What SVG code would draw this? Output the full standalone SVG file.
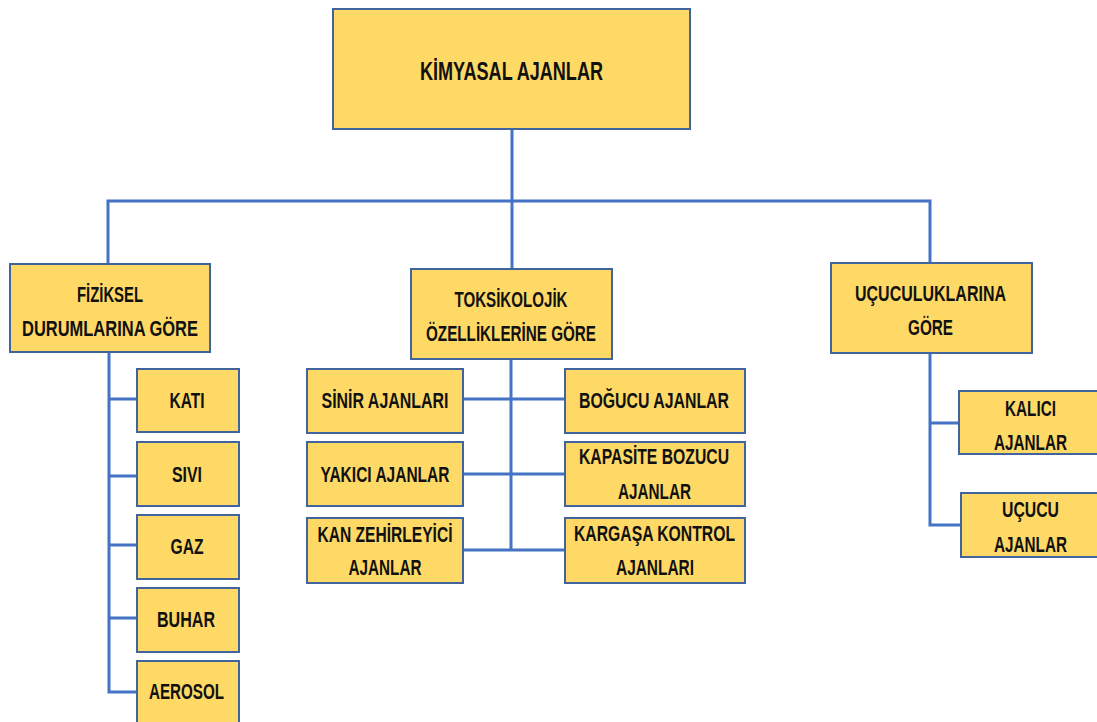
<svg xmlns="http://www.w3.org/2000/svg" width="1097" height="722" viewBox="0 0 1097 722">
<style>
.box{fill:#FFD966;stroke:#41649F;stroke-width:2}
.ln{stroke:#4472C4;stroke-width:3;fill:none}
text{font-family:"Liberation Sans",Arial,sans-serif;font-weight:bold;font-size:22px;fill:#111;text-anchor:middle}
.big{font-size:26px}
</style>
<rect width="1097" height="722" fill="#fff"/>
<g id="connectors">
<path class="ln" d="M512,129V201M108,263V201H930V263M512,201V269"/>
<path class="ln" d="M109,352V692H137M109,399H137M109,476H137M109,545H137M109,618H137"/>
<path class="ln" d="M511,359V550M463,399H565M463,474H565M463,550H565"/>
<path class="ln" d="M930,353V525H961M930,423H959"/>
</g>
<g id="root"><rect class="box" x="333" y="9" width="357" height="120"/><text class="big" x="511.5" y="80" textLength="183" lengthAdjust="spacingAndGlyphs">KİMYASAL AJANLAR</text></g>
<g id="fiziksel"><rect class="box" x="10" y="264" width="200" height="88"/><text x="110" y="302" textLength="66" lengthAdjust="spacingAndGlyphs">FİZİKSEL</text><text x="110" y="336" textLength="176" lengthAdjust="spacingAndGlyphs">DURUMLARINA GÖRE</text></g>
<g id="kati"><rect class="box" x="137" y="369" width="102" height="63"/><text x="187" y="408" textLength="35" lengthAdjust="spacingAndGlyphs">KATI</text></g>
<g id="sivi"><rect class="box" x="137" y="442" width="102" height="64"/><text x="187" y="482" textLength="30" lengthAdjust="spacingAndGlyphs">SIVI</text></g>
<g id="gaz"><rect class="box" x="137" y="515" width="102" height="64"/><text x="187" y="554" textLength="33" lengthAdjust="spacingAndGlyphs">GAZ</text></g>
<g id="buhar"><rect class="box" x="137" y="588" width="102" height="64"/><text x="186" y="627" textLength="58" lengthAdjust="spacingAndGlyphs">BUHAR</text></g>
<g id="aerosol"><rect class="box" x="137" y="661" width="102" height="70"/><text x="186.5" y="699" textLength="75" lengthAdjust="spacingAndGlyphs">AEROSOL</text></g>
<g id="toksikolojik"><rect class="box" x="411" y="269" width="201" height="90"/><text x="511" y="307" textLength="113" lengthAdjust="spacingAndGlyphs">TOKSİKOLOJİK</text><text x="511" y="341" textLength="170" lengthAdjust="spacingAndGlyphs">ÖZELLİKLERİNE GÖRE</text></g>
<g id="sinir"><rect class="box" x="307" y="369" width="156" height="64"/><text x="385" y="408" textLength="127" lengthAdjust="spacingAndGlyphs">SİNİR AJANLARI</text></g>
<g id="yakici"><rect class="box" x="307" y="442" width="156" height="64"/><text x="385" y="482" textLength="129" lengthAdjust="spacingAndGlyphs">YAKICI AJANLAR</text></g>
<g id="kan"><rect class="box" x="307" y="518" width="156" height="65"/><text x="385" y="542" textLength="135" lengthAdjust="spacingAndGlyphs">KAN ZEHİRLEYİCİ</text><text x="385" y="575" textLength="73" lengthAdjust="spacingAndGlyphs">AJANLAR</text></g>
<g id="bogucu"><rect class="box" x="565" y="369" width="180" height="64"/><text x="654" y="408" textLength="150" lengthAdjust="spacingAndGlyphs">BOĞUCU AJANLAR</text></g>
<g id="kapasite"><rect class="box" x="565" y="442" width="180" height="64"/><text x="654" y="464" textLength="150" lengthAdjust="spacingAndGlyphs">KAPASİTE BOZUCU</text><text x="654.5" y="499" textLength="73" lengthAdjust="spacingAndGlyphs">AJANLAR</text></g>
<g id="kargasa"><rect class="box" x="565" y="518" width="180" height="65"/><text x="654.5" y="541" textLength="161" lengthAdjust="spacingAndGlyphs">KARGAŞA KONTROL</text><text x="655" y="575" textLength="78" lengthAdjust="spacingAndGlyphs">AJANLARI</text></g>
<g id="ucuculuk"><rect class="box" x="831" y="263" width="201" height="90"/><text x="930.5" y="301" textLength="151" lengthAdjust="spacingAndGlyphs">UÇUCULUKLARINA</text><text x="930.5" y="335" textLength="45" lengthAdjust="spacingAndGlyphs">GÖRE</text></g>
<g id="kalici"><rect class="box" x="959" y="391" width="142" height="63"/><text x="1030.5" y="416" textLength="51" lengthAdjust="spacingAndGlyphs">KALICI</text><text x="1030.5" y="450" textLength="73" lengthAdjust="spacingAndGlyphs">AJANLAR</text></g>
<g id="ucucu"><rect class="box" x="961" y="493" width="140" height="64"/><text x="1030.5" y="517" textLength="57" lengthAdjust="spacingAndGlyphs">UÇUCU</text><text x="1030.5" y="552" textLength="73" lengthAdjust="spacingAndGlyphs">AJANLAR</text></g>
</svg>
